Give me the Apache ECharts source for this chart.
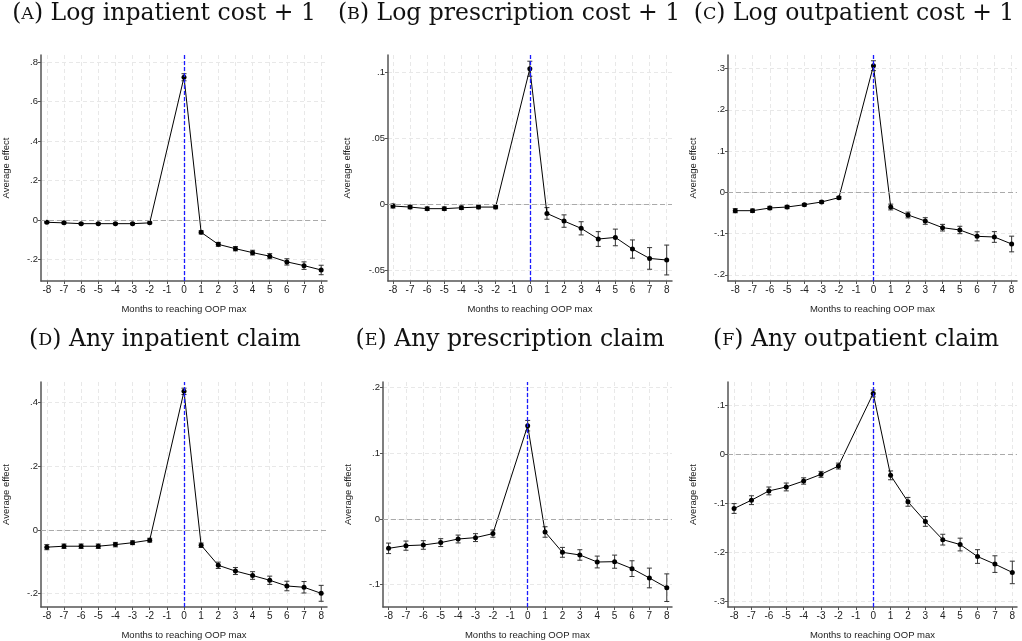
<!DOCTYPE html>
<html>
<head>
<meta charset="utf-8">
<script src="https://cdn.jsdelivr.net/npm/echarts@6/dist/echarts.min.js"></script>
<style>
  html, body { margin: 0; padding: 0; background: #fff; }
  #chart { width: 1022px; height: 641px; }
</style>
</head>
<body>
<div id="chart"></div>
<script>
// months relative to reaching the OOP max (-1 is the omitted reference month)
var months = [-8, -7, -6, -5, -4, -3, -2, 0, 1, 2, 3, 4, 5, 6, 7, 8];
var xTicks = [-8, -7, -6, -5, -4, -3, -2, -1, 0, 1, 2, 3, 4, 5, 6, 7, 8];

// point estimates and 95% CI half-widths, one pair per panel
var inpCost = [-0.012, -0.015, -0.019, -0.019, -0.019, -0.019, -0.015, 0.724, -0.063, -0.124, -0.146, -0.166, -0.184, -0.213, -0.232, -0.254];
var inpCostCI = [0.004, 0.004, 0.004, 0.004, 0.004, 0.004, 0.004, 0.018, 0.008, 0.010, 0.011, 0.012, 0.013, 0.016, 0.019, 0.024];

var rxCost = [-0.0015, -0.0023, -0.0035, -0.0035, -0.0028, -0.0023, -0.0023, 0.1025, -0.0071, -0.0129, -0.0184, -0.0265, -0.0253, -0.0341, -0.0412, -0.0424];
var rxCostCI = [0.0015, 0.0013, 0.0013, 0.0013, 0.0013, 0.0013, 0.0013, 0.0057, 0.0044, 0.0047, 0.0050, 0.0056, 0.0063, 0.0069, 0.0082, 0.0113];

var outCost = [-0.0445, -0.0445, -0.038, -0.0356, -0.030, -0.0234, -0.0129, 0.307, -0.0356, -0.055, -0.0695, -0.0857, -0.0913, -0.1067, -0.1083, -0.1253];
var outCostCI = [0.005, 0.004, 0.004, 0.004, 0.003, 0.003, 0.003, 0.012, 0.007, 0.007, 0.008, 0.008, 0.009, 0.011, 0.013, 0.019];

var inpAny = [-0.054, -0.051, -0.051, -0.051, -0.046, -0.040, -0.032, 0.4356, -0.048, -0.111, -0.129, -0.143, -0.158, -0.176, -0.180, -0.199];
var inpAnyCI = [0.008, 0.007, 0.007, 0.007, 0.007, 0.006, 0.006, 0.010, 0.007, 0.010, 0.011, 0.012, 0.013, 0.015, 0.018, 0.025];

var rxAny = [-0.0447, -0.0406, -0.0396, -0.036, -0.0305, -0.0284, -0.0223, 0.142, -0.0198, -0.0508, -0.0548, -0.0655, -0.065, -0.0756, -0.0898, -0.1046];
var rxAnyCI = [0.008, 0.007, 0.0065, 0.006, 0.006, 0.006, 0.0055, 0.008, 0.008, 0.0075, 0.008, 0.009, 0.010, 0.012, 0.015, 0.021];

var outAny = [-0.1104, -0.0934, -0.0745, -0.0664, -0.0542, -0.0406, -0.0237, 0.1246, -0.0427, -0.0968, -0.1368, -0.174, -0.184, -0.2085, -0.224, -0.241];
var outAnyCI = [0.010, 0.009, 0.008, 0.008, 0.0065, 0.006, 0.006, 0.007, 0.009, 0.009, 0.010, 0.011, 0.013, 0.014, 0.017, 0.023];

// y tick labels per panel
var yTicksA = [-0.2, 0, 0.2, 0.4, 0.6, 0.8];
var yTicksB = [-0.05, 0, 0.05, 0.1];
var yTicksC = [-0.2, -0.1, 0, 0.1, 0.2, 0.3];
var yTicksD = [-0.2, 0, 0.2, 0.4];
var yTicksE = [-0.1, 0, 0.1, 0.2];
var yTicksF = [-0.3, -0.2, -0.1, 0, 0.1];

var panels = [
  { letter: "A", title: "Log inpatient cost + 1", est: inpCost, ci: inpCostCI, yTicks: yTicksA,
    grid: [37, 55, 290, 226], x: [-8.34, 8.34], y: [-0.31, 0.837], tx: 164, ty: 14, gap: 30 },
  { letter: "B", title: "Log prescription cost + 1", est: rxCost, ci: rxCostCI, yTicks: yTicksB,
    grid: [388, 55, 284, 226], x: [-8.29, 8.31], y: [-0.0583, 0.1129], tx: 509, ty: 14, gap: 36 },
  { letter: "C", title: "Log outpatient cost + 1", est: outCost, ci: outCostCI, yTicks: yTicksC,
    grid: [728, 55, 289, 226], x: [-8.42, 8.31], y: [-0.215, 0.333], tx: 854, ty: 14, gap: 30 },
  { letter: "D", title: "Any inpatient claim", est: inpAny, ci: inpAnyCI, yTicks: yTicksD,
    grid: [37, 382, 290, 226], x: [-8.34, 8.34], y: [-0.242, 0.465], tx: 165, ty: 340, gap: 30 },
  { letter: "E", title: "Any prescription claim", est: rxAny, ci: rxAnyCI, yTicks: yTicksE,
    grid: [383, 382, 289, 225], x: [-8.32, 8.3], y: [-0.134, 0.2085], tx: 510, ty: 340, gap: 30 },
  { letter: "F", title: "Any outpatient claim", est: outAny, ci: outAnyCI, yTicks: yTicksF,
    grid: [728, 382, 289, 226], x: [-8.35, 8.27], y: [-0.3116, 0.148], tx: 856, ty: 340, gap: 30 }
];

function fmt(v) {
  return String(+v.toFixed(3)).replace("0.", ".");
}

var grids = [], xAxes = [], yAxes = [], series = [], graphics = [];

panels.forEach(function (p, i) {
  grids.push({ left: p.grid[0], top: p.grid[1], width: p.grid[2], height: p.grid[3], containLabel: false });

  xAxes.push({
    type: "value", gridIndex: i, min: p.x[0], max: p.x[1],
    name: "Months to reaching OOP max", nameLocation: "middle", nameGap: 23,
    nameTextStyle: { fontFamily: "Liberation Sans", fontSize: 9.5, color: "#222" },
    axisLine: { onZero: false, lineStyle: { color: "#555", width: 1.5 } },
    axisTick: { length: 3, customValues: xTicks, lineStyle: { color: "#555" } },
    axisLabel: { customValues: xTicks, margin: 4, fontFamily: "Liberation Sans", fontSize: 10, color: "#222" },
    splitLine: { show: true, lineStyle: { color: "#e8e8e8", type: [4, 3], width: 1 } }
  });

  yAxes.push({
    type: "value", gridIndex: i, min: p.y[0], max: p.y[1],
    name: "Average effect", nameLocation: "middle", nameGap: p.gap, nameRotate: 90,
    nameTextStyle: { fontFamily: "Liberation Sans", fontSize: 9.5, color: "#222" },
    axisLine: { show: true, onZero: false, lineStyle: { color: "#555", width: 1.5 } },
    axisTick: { show: true, length: 3, customValues: p.yTicks, lineStyle: { color: "#555" } },
    axisLabel: { customValues: p.yTicks, margin: 3, formatter: fmt, fontFamily: "Liberation Sans", fontSize: 9.5, color: "#222" },
    splitLine: { show: true, lineStyle: { color: "#e8e8e8", type: [4, 3], width: 1 } }
  });

  var pts = months.map(function (m, k) { return [m, p.est[k]]; });
  var bars = months.map(function (m, k) { return [m, p.est[k] - p.ci[k], p.est[k] + p.ci[k]]; });

  series.push({
    type: "custom", xAxisIndex: i, yAxisIndex: i, data: bars, z: 3,
    renderItem: function (params, api) {
      var lo = api.coord([api.value(0), api.value(1)]);
      var hi = api.coord([api.value(0), api.value(2)]);
      var w = 2.5;
      var st = { stroke: "#333", lineWidth: 1 };
      return {
        type: "group",
        children: [
          { type: "line", shape: { x1: lo[0], y1: lo[1], x2: hi[0], y2: hi[1] }, style: st },
          { type: "line", shape: { x1: lo[0] - w, y1: lo[1], x2: lo[0] + w, y2: lo[1] }, style: st },
          { type: "line", shape: { x1: hi[0] - w, y1: hi[1], x2: hi[0] + w, y2: hi[1] }, style: st }
        ]
      };
    }
  });

  series.push({
    type: "line", xAxisIndex: i, yAxisIndex: i, data: pts, z: 4,
    symbol: "circle", symbolSize: 5, showSymbol: true,
    itemStyle: { color: "#000" },
    lineStyle: { color: "#000", width: 1 },
    animation: false,
    markLine: {
      silent: true, symbol: "none", label: { show: false }, animation: false,
      data: [
        { yAxis: 0, lineStyle: { color: "#aaa", type: [5, 3], width: 1.2 } },
        { xAxis: 0, lineStyle: { color: "#1a1aff", type: [4, 2], width: 1.3 } }
      ]
    }
  });

  graphics.push({
    type: "text", x: p.tx, y: p.ty,
    style: {
      text: "{n|(}{s|" + p.letter + "}{n|) " + p.title + "}",
      align: "center", verticalAlign: "middle",
      rich: {
        n: { fontFamily: "DejaVu Serif", fontSize: 23.5, fill: "#111", color: "#111" },
        s: { fontFamily: "DejaVu Serif", fontSize: 17.5, fill: "#111", color: "#111" }
      }
    }
  });
});

var chart = echarts.init(document.getElementById("chart"));
chart.setOption({
  animation: false,
  backgroundColor: "#fff",
  grid: grids,
  xAxis: xAxes,
  yAxis: yAxes,
  series: series,
  graphic: graphics
});
window.addEventListener("resize", chart.resize);
</script>
</body>
</html>
